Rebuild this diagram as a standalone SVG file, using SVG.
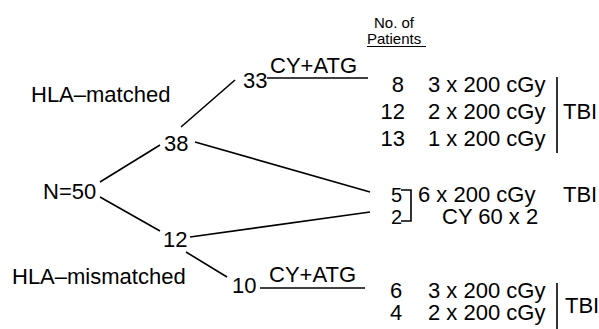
<svg xmlns="http://www.w3.org/2000/svg" width="599" height="329" viewBox="0 0 599 329">
<style>
text{font-family:"Liberation Sans",Arial,sans-serif;font-size:22px;fill:#000}
.s{font-size:15px}
.m{font-size:20px}
.e{text-anchor:end}
line,path{stroke:#000;stroke-width:1.6;fill:none}
</style>
<rect width="599" height="329" fill="#fff"/>
<g id="connectors">
<line x1="100" y1="182" x2="160" y2="145"/>
<line x1="100" y1="197" x2="160" y2="231"/>
<line x1="181" y1="127" x2="235" y2="80"/>
<line x1="195" y1="142" x2="370" y2="192"/>
<line x1="190" y1="237" x2="370" y2="212"/>
<line x1="186" y1="252" x2="227" y2="277"/>
</g>
<g id="labels">
<text x="31" y="102">HLA–matched</text>
<text x="12" y="284">HLA–mismatched</text>
</g>
<g id="n50"><text x="43" y="199">N=50</text></g>
<g id="n38"><text x="164" y="151">38</text></g>
<g id="n12"><text x="163" y="247">12</text></g>
<g id="n33">
<text x="243" y="88">33</text>
<text x="270" y="73">CY+ATG</text>
<line x1="267" y1="78" x2="368" y2="78"/>
</g>
<g id="n10">
<text x="232" y="293">10</text>
<text x="269" y="282">CY+ATG</text>
<line x1="260" y1="288" x2="365" y2="288"/>
</g>
<g id="header">
<text class="s" x="374" y="28">No. of</text>
<text class="s" x="367" y="44">Patients</text>
<line x1="367" y1="46.5" x2="426" y2="46.5" style="stroke-width:1.2"/>
</g>
<g id="matched-tbi">
<text class="e" x="404" y="92">8</text>
<text class="e" x="405" y="119">12</text>
<text class="e" x="405" y="146">13</text>
<text x="428" y="92">3 x 200 cGy</text>
<text x="428" y="119">2 x 200 cGy</text>
<text x="428" y="146">1 x 200 cGy</text>
<line x1="557" y1="77" x2="557" y2="153"/>
<text x="563" y="119">TBI</text>
</g>
<g id="mixed">
<text class="m" x="391" y="202">5</text>
<text class="m" x="391" y="224">2</text>
<path d="M401,190 H411 V221 H401"/>
<text x="418" y="202">6 x 200 cGy</text>
<text x="563" y="202">TBI</text>
<text x="442" y="224">CY 60 x 2</text>
</g>
<g id="mismatched-tbi">
<text x="390" y="298">6</text>
<text x="390" y="320">4</text>
<text x="428" y="298">3 x 200 cGy</text>
<text x="428" y="320">2 x 200 cGy</text>
<line x1="557" y1="283" x2="557" y2="329"/>
<text x="565" y="313">TBI</text>
</g>
</svg>
